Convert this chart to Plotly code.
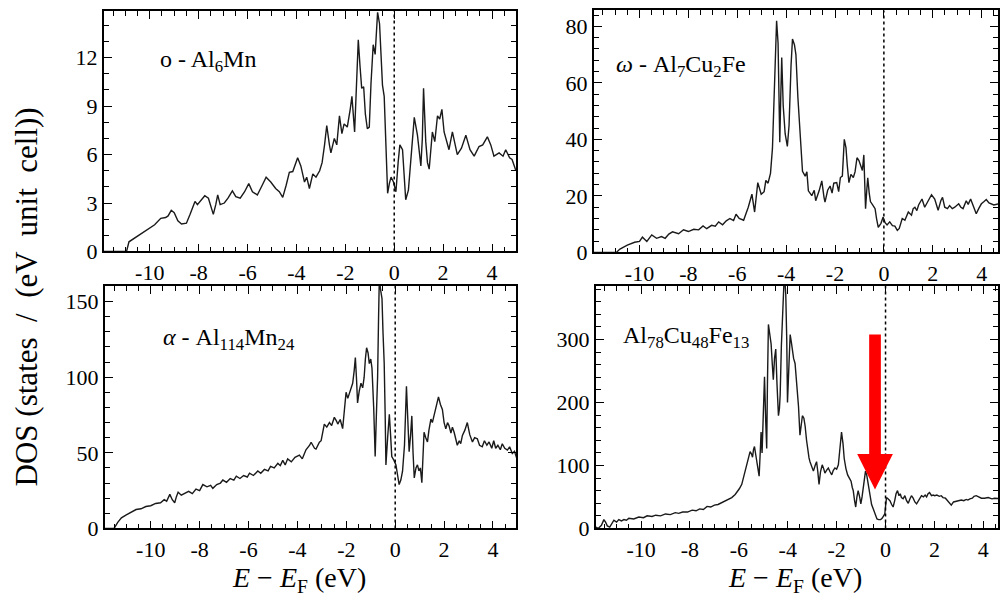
import plotly.graph_objects as go

# ---------------- data ----------------
# o-Al6Mn : (E - EF [eV], DOS)
al6mn = [(-11.88, 0), (-10.95, 0), (-10.85, 0.6), (-10.6, 0.85), (-10.2, 1.25), (-9.8, 1.65), (-9.55, 2.05),
         (-9.35, 2.1), (-9.25, 2.2), (-9.12, 2.55), (-9.0, 2.4), (-8.85, 1.9), (-8.7, 1.7), (-8.5, 1.75),
         (-8.35, 2.3), (-8.25, 2.7), (-8.15, 3.1), (-8.05, 2.9), (-7.9, 3.2), (-7.75, 3.45), (-7.6, 3.3),
         (-7.48, 2.7), (-7.4, 2.3), (-7.3, 2.9), (-7.22, 3.5), (-7.12, 2.9), (-6.95, 3.0), (-6.8, 3.3),
         (-6.62, 3.75), (-6.48, 3.4), (-6.3, 3.3), (-6.12, 3.7), (-5.95, 4.2), (-5.8, 3.7), (-5.6, 3.5),
         (-5.4, 4.1), (-5.24, 4.6), (-5.05, 4.3), (-4.85, 3.9), (-4.7, 3.7), (-4.56, 3.35), (-4.42, 4.1),
         (-4.29, 4.9), (-4.15, 4.95), (-3.95, 5.8), (-3.82, 5.3), (-3.67, 4.3), (-3.58, 4.6), (-3.47, 3.9),
         (-3.33, 4.8), (-3.2, 4.6), (-3.05, 5.0), (-2.95, 5.5), (-2.85, 6.6), (-2.76, 7.8), (-2.65, 6.6),
         (-2.59, 6.1), (-2.45, 7.0), (-2.35, 6.6), (-2.24, 8.4), (-2.14, 7.3), (-2.05, 7.9), (-1.92, 7.7),
         (-1.8, 8.8), (-1.73, 9.6), (-1.62, 7.4), (-1.56, 9.5), (-1.47, 13.1), (-1.4, 11.5), (-1.33, 10.1),
         (-1.25, 10.2), (-1.18, 8.5), (-1.1, 7.6), (-1.02, 7.7), (-0.95, 10.4), (-0.86, 12.8), (-0.78, 12.2),
         (-0.68, 14.8), (-0.6, 14.1), (-0.52, 12.0), (-0.48, 10.3), (-0.41, 9.6), (-0.34, 6.5), (-0.27, 3.6),
         (-0.2, 4.2), (-0.13, 4.6), (-0.03, 4.3), (0.07, 3.7), (0.16, 5.5), (0.23, 6.6), (0.34, 6.3),
         (0.4, 4.8), (0.47, 3.2), (0.58, 3.8), (0.7, 6.0), (0.82, 8.3), (0.95, 7.2), (1.09, 5.3), (1.15, 7.0),
         (1.2, 10.1), (1.29, 6.8), (1.36, 5.5), (1.43, 5.1), (1.56, 7.4), (1.66, 6.8), (1.77, 8.4), (1.86, 8.2),
         (1.95, 8.8), (2.04, 7.4), (2.24, 6.3), (2.38, 7.4), (2.58, 6.0), (2.75, 6.4), (2.93, 7.2), (3.1, 6.3),
         (3.27, 5.9), (3.47, 6.5), (3.62, 6.6), (3.81, 7.1), (3.95, 6.6), (4.08, 5.9), (4.29, 6.1), (4.45, 5.9),
         (4.56, 6.3), (4.72, 5.8), (4.82, 5.7), (4.98, 5.0)]

# omega-Al7Cu2Fe
al7cu2fe = [(-11.88, 0), (-10.95, 0), (-10.8, 1.2), (-10.5, 2.6), (-10.2, 3.6), (-10.0, 3.9), (-9.88, 5.4),
            (-9.7, 3.9), (-9.5, 6.2), (-9.3, 5.0), (-9.1, 5.6), (-8.95, 5.0), (-8.8, 6.5), (-8.65, 7.3),
            (-8.4, 6.6), (-8.2, 8.0), (-8.0, 7.4), (-7.78, 8.2), (-7.58, 8.0), (-7.4, 9.4), (-7.25, 8.4),
            (-7.05, 9.6), (-6.9, 9.3), (-6.76, 10.8), (-6.6, 9.8), (-6.45, 11.2), (-6.3, 12.0), (-6.15, 11.3),
            (-6.05, 13.5), (-5.92, 12.0), (-5.74, 11.4), (-5.55, 16.0), (-5.4, 20.6), (-5.29, 14.3),
            (-5.16, 24.7), (-5.02, 20.6), (-4.9, 21.5), (-4.83, 25.5), (-4.74, 24.5), (-4.64, 28.0),
            (-4.56, 36.8), (-4.5, 55.0), (-4.44, 75.0), (-4.39, 82.0), (-4.33, 74.0), (-4.29, 60.0),
            (-4.26, 39.0), (-4.22, 55.0), (-4.18, 69.0), (-4.12, 52.0), (-4.04, 42.0), (-3.95, 37.5),
            (-3.88, 45.0), (-3.8, 66.0), (-3.74, 75.5), (-3.66, 73.5), (-3.6, 70.0), (-3.52, 55.0),
            (-3.43, 41.4), (-3.33, 28.7), (-3.22, 27.0), (-3.15, 28.5), (-3.09, 21.8), (-2.95, 20.1),
            (-2.85, 22.0), (-2.79, 18.3), (-2.65, 21.8), (-2.54, 25.3), (-2.45, 19.5), (-2.41, 17.8),
            (-2.3, 22.0), (-2.2, 23.5), (-2.12, 21.0), (-2.05, 24.5), (-1.93, 24.7), (-1.85, 21.5),
            (-1.78, 26.5), (-1.7, 27.0), (-1.62, 40.0), (-1.55, 37.0), (-1.5, 31.0), (-1.43, 24.7),
            (-1.35, 27.6), (-1.25, 26.5), (-1.18, 28.5), (-1.1, 33.5), (-1.02, 32.5), (-0.93, 30.0),
            (-0.88, 29.0), (-0.82, 34.5), (-0.75, 15.5), (-0.7, 22.0), (-0.66, 26.4), (-0.6, 21.0),
            (-0.55, 18.0), (-0.44, 16.6), (-0.36, 15.5), (-0.3, 12.0), (-0.23, 8.9), (-0.12, 10.3),
            (-0.03, 12.5), (0.05, 10.5), (0.13, 9.7), (0.24, 10.8), (0.35, 9.5), (0.45, 9.3), (0.55, 7.8),
            (0.63, 8.5), (0.75, 12.0), (0.86, 11.4), (0.95, 13.8), (1.0, 14.3), (1.13, 13.2), (1.2, 15.5),
            (1.27, 16.0), (1.35, 14.8), (1.42, 16.8), (1.56, 18.9), (1.67, 16.0), (1.81, 18.3), (1.95, 20.4),
            (2.08, 18.9), (2.15, 17.0), (2.22, 14.9), (2.33, 18.3), (2.4, 19.5), (2.49, 16.0), (2.6, 15.5),
            (2.69, 16.6), (2.8, 15.5), (2.9, 16.0), (3.06, 17.2), (3.15, 16.0), (3.24, 15.5), (3.37, 18.3),
            (3.45, 17.0), (3.55, 18.9), (3.66, 16.6), (3.78, 13.7), (3.88, 15.5), (3.99, 17.2), (4.1, 18.0),
            (4.19, 18.7), (4.3, 17.5), (4.39, 17.2), (4.5, 16.8), (4.7, 17.2)]

# alpha-Al114Mn24
al114mn24 = [(-11.88, 0), (-11.5, 0), (-11.35, 4), (-11.2, 7), (-11.0, 9), (-10.8, 11), (-10.6, 12.5),
             (-10.4, 13), (-10.2, 14.5), (-10.0, 15), (-9.8, 16.5), (-9.6, 17), (-9.45, 19), (-9.35, 18),
             (-9.22, 22.5), (-9.12, 19), (-9.02, 17), (-8.95, 21), (-8.88, 24), (-8.75, 22), (-8.6, 23.5),
             (-8.45, 24.5), (-8.3, 23), (-8.15, 26), (-8.0, 25), (-7.87, 29), (-7.7, 27.5), (-7.55, 28.5),
             (-7.46, 26.5), (-7.3, 29), (-7.15, 30), (-7.05, 32), (-6.9, 30.5), (-6.75, 33), (-6.6, 32),
             (-6.5, 34.5), (-6.35, 33), (-6.2, 35), (-6.05, 34), (-5.96, 36.5), (-5.8, 35), (-5.62, 38),
             (-5.5, 36.5), (-5.35, 39), (-5.2, 38), (-5.1, 41), (-4.95, 40), (-4.8, 43), (-4.7, 41.5),
             (-4.6, 45), (-4.5, 42), (-4.4, 46), (-4.25, 44), (-4.1, 47), (-3.92, 48.5), (-3.8, 46),
             (-3.65, 52), (-3.5, 55), (-3.44, 57), (-3.3, 53), (-3.24, 52.5), (-3.1, 57), (-3.03, 58),
             (-2.95, 66), (-2.9, 69), (-2.8, 67), (-2.69, 70), (-2.6, 68), (-2.49, 73.5), (-2.4, 71),
             (-2.35, 69), (-2.25, 72), (-2.15, 66), (-2.08, 78), (-2.01, 90), (-1.94, 86), (-1.88, 89),
             (-1.8, 92), (-1.74, 96), (-1.68, 104), (-1.63, 113), (-1.58, 98), (-1.54, 83), (-1.47, 91),
             (-1.4, 96), (-1.33, 93), (-1.27, 100), (-1.22, 112), (-1.17, 119.5), (-1.11, 116), (-1.06, 109),
             (-1.0, 112), (-0.95, 106), (-0.88, 80), (-0.82, 47.5), (-0.77, 75), (-0.72, 100), (-0.68, 140),
             (-0.65, 165), (-0.6, 158), (-0.54, 152), (-0.5, 130), (-0.45, 109), (-0.41, 75), (-0.38, 42),
             (-0.31, 60), (-0.24, 75.5), (-0.19, 62), (-0.14, 47.5), (-0.05, 45), (0.03, 42), (0.1, 35),
             (0.16, 29), (0.23, 32), (0.3, 37.8), (0.38, 55), (0.43, 80), (0.46, 94), (0.52, 70), (0.57, 50.7),
             (0.63, 62), (0.68, 74.4), (0.73, 50), (0.78, 33.4), (0.85, 40), (0.91, 42), (0.97, 38), (1.03, 40),
             (1.09, 30.2), (1.14, 45), (1.18, 63.6), (1.25, 60), (1.32, 57.2), (1.38, 65), (1.46, 72.3),
             (1.52, 70), (1.59, 74.4), (1.68, 82), (1.77, 87), (1.85, 82), (1.93, 78.7), (2.0, 70), (2.07, 65.8),
             (2.14, 70), (2.2, 68), (2.28, 63), (2.34, 67), (2.41, 63.6), (2.48, 58), (2.54, 55), (2.62, 58),
             (2.68, 56), (2.75, 61.5), (2.85, 65), (2.95, 70), (3.05, 62), (3.16, 57.2), (3.25, 60), (3.36, 59.3),
             (3.45, 55), (3.56, 54), (3.65, 58), (3.75, 55), (3.84, 57.2), (3.95, 53), (4.03, 58), (4.11, 53),
             (4.2, 55), (4.3, 52), (4.38, 56), (4.48, 53), (4.59, 51.8), (4.68, 54), (4.79, 49.6), (4.88, 51),
             (4.98, 46)]

# Al78Cu48Fe13
al78cu48fe13 = [(-11.85, 2), (-11.75, 0), (-11.62, 5), (-11.52, 14), (-11.45, 10), (-11.38, 4), (-11.28, 2),
                (-11.18, 9), (-11.11, 13), (-11.0, 10), (-10.91, 14), (-10.8, 12), (-10.7, 14), (-10.6, 13),
                (-10.5, 16), (-10.3, 15), (-10.09, 18), (-9.9, 17), (-9.75, 20), (-9.55, 19), (-9.4, 21),
                (-9.2, 20), (-9.0, 23), (-8.8, 22), (-8.6, 25), (-8.46, 24), (-8.3, 26), (-8.1, 26), (-7.91, 29),
                (-7.75, 28), (-7.6, 31), (-7.45, 30), (-7.3, 35), (-7.15, 34), (-7.0, 37), (-6.85, 38),
                (-6.7, 41), (-6.56, 44), (-6.4, 46), (-6.29, 49), (-6.15, 54), (-6.08, 57), (-5.98, 63),
                (-5.88, 70), (-5.78, 85), (-5.67, 98), (-5.6, 112), (-5.54, 122), (-5.48, 118), (-5.44, 113),
                (-5.4, 125), (-5.36, 130), (-5.3, 115), (-5.27, 106), (-5.22, 90), (-5.17, 83), (-5.12, 125),
                (-5.09, 153), (-5.05, 120), (-5.02, 171), (-4.98, 200), (-4.95, 241), (-4.9, 170), (-4.86, 127),
                (-4.83, 230), (-4.79, 324), (-4.74, 310), (-4.68, 293), (-4.63, 260), (-4.59, 236), (-4.54, 270),
                (-4.49, 285), (-4.44, 230), (-4.38, 179), (-4.34, 190), (-4.31, 212), (-4.26, 290), (-4.22, 340),
                (-4.18, 375), (-4.15, 395), (-4.11, 390), (-4.08, 371), (-4.04, 300), (-4.01, 200), (-3.96, 250),
                (-3.9, 308), (-3.85, 295), (-3.81, 280), (-3.76, 270), (-3.7, 262), (-3.63, 231), (-3.56, 194),
                (-3.5, 148), (-3.45, 165), (-3.4, 179), (-3.34, 175), (-3.29, 163), (-3.23, 140), (-3.18, 122),
                (-3.13, 112), (-3.09, 106), (-3.02, 98), (-2.95, 91), (-2.88, 100), (-2.82, 106), (-2.77, 90),
                (-2.72, 70), (-2.66, 90), (-2.59, 101), (-2.53, 95), (-2.48, 88), (-2.4, 93), (-2.34, 96),
                (-2.27, 90), (-2.2, 85), (-2.14, 92), (-2.07, 96), (-2.0, 94), (-1.93, 101), (-1.87, 125),
                (-1.8, 153), (-1.74, 135), (-1.69, 111), (-1.62, 95), (-1.55, 85), (-1.48, 80), (-1.41, 75),
                (-1.36, 65), (-1.32, 60), (-1.27, 45), (-1.22, 34), (-1.17, 50), (-1.12, 60), (-1.06, 50),
                (-1.01, 39), (-0.96, 50), (-0.91, 65), (-0.86, 80), (-0.82, 91), (-0.77, 85), (-0.73, 75),
                (-0.68, 60), (-0.64, 49), (-0.57, 38), (-0.5, 31), (-0.42, 22), (-0.35, 15), (-0.28, 14),
                (-0.2, 14), (-0.14, 16), (-0.08, 20), (-0.03, 23), (0.0, 35), (0.04, 49), (0.1, 47), (0.18, 44),
                (0.25, 38), (0.31, 34), (0.38, 45), (0.43, 55), (0.49, 60), (0.55, 52), (0.6, 55), (0.65, 49),
                (0.72, 47), (0.79, 52), (0.86, 44), (0.93, 40), (1.0, 47), (1.06, 52), (1.13, 48), (1.2, 42),
                (1.27, 39), (1.35, 45), (1.42, 50), (1.47, 52), (1.55, 50), (1.62, 53), (1.68, 50), (1.74, 55),
                (1.8, 57), (1.88, 52), (1.95, 53), (2.01, 52), (2.1, 53), (2.2, 51), (2.28, 52), (2.35, 49),
                (2.45, 48), (2.55, 44), (2.62, 40), (2.69, 37), (2.78, 42), (2.87, 43), (2.97, 44), (3.1, 45),
                (3.2, 44), (3.3, 46), (3.37, 45), (3.45, 47), (3.55, 48), (3.62, 51), (3.71, 52), (3.8, 50),
                (3.92, 48), (4.05, 48), (4.2, 49), (4.35, 47), (4.46, 48), (4.7, 47)]

panel_labels = ["o - Al<sub>6</sub>Mn",
                "<i>ω</i> - Al<sub>7</sub>Cu<sub>2</sub>Fe",
                "<i>α</i> - Al<sub>114</sub>Mn<sub>24</sub>",
                "Al<sub>78</sub>Cu<sub>48</sub>Fe<sub>13</sub>"]
x_tickvals = [-10, -8, -6, -4, -2, 0, 2, 4]
x_ticktext = ["-10", "-8", "-6", "-4", "-2", "0", "2", "4"]
y_ticks = [[0, 3, 6, 9, 12], [0, 20, 40, 60, 80], [0, 50, 100, 150], [0, 100, 200, 300]]
y_minor = [1, 4, 10, 20]
y_tops = [14.9, 85.6, 160.3, 385]
x_ranges = [[-11.88, 4.98], [-11.87, 4.67], [-11.88, 4.94], [-11.85, 4.6]]
y_title = "DOS (states &nbsp;/ &nbsp;(eV &nbsp;unit &nbsp;cell))"
x_title = "<i>E</i> − <i>E</i><sub>F</sub> (eV)"

# red arrow (bottom-right panel, data coords)
arrow_x = -0.43
arrow_shaft_half = 0.24
arrow_top = 308
arrow_head_base = 118
arrow_head_half = 0.73
arrow_tip = 62

# ---------------- layout ----------------
FONT = "Liberation Serif, Times New Roman, serif"
x_domains = [[0.104, 0.517], [0.595, 1.0], [0.105, 0.517], [0.597, 1.0]]
y_domains = [[0.5759, 0.9818], [0.5743, 0.9823], [0.1089, 0.5177], [0.1089, 0.5177]]
label_pos = [(0.131, 0.79), (0.05, 0.77), (0.136, 0.78), (0.062, 0.79)]

series = [al6mn, al7cu2fe, al114mn24, al78cu48fe13]

fig = go.Figure()
layout = dict(width=1000, height=606, margin=dict(l=0, r=0, t=0, b=0),
              paper_bgcolor="white", plot_bgcolor="white", showlegend=False,
              font=dict(family=FONT, color="black"))
shapes = []
annotations = []

for i, pts in enumerate(series):
    n = "" if i == 0 else str(i + 1)
    xs = [p[0] for p in pts]
    ys = [p[1] for p in pts]
    fig.add_trace(go.Scatter(x=xs, y=ys, mode="lines", xaxis="x" + n, yaxis="y" + n,
                             line=dict(color="#1a1a1a", width=1.4), hoverinfo="skip"))
    common = dict(showline=True, linecolor="black", linewidth=1.6, mirror="allticks",
                  ticks="inside", ticklen=8, tickwidth=1.4, tickcolor="black",
                  showgrid=False, zeroline=False,
                  tickfont=dict(family=FONT, size=22, color="black"))
    layout["xaxis" + n] = dict(common, domain=x_domains[i], range=x_ranges[i], anchor="y" + n,
                               tickmode="array", tickvals=x_tickvals, ticktext=x_ticktext,
                               minor=dict(tickmode="linear", tick0=0, dtick=0.5, ticks="inside",
                                          ticklen=5, tickwidth=1.3, tickcolor="black"))
    layout["yaxis" + n] = dict(common, domain=y_domains[i], range=[0, y_tops[i]], anchor="x" + n,
                               tickmode="array", tickvals=y_ticks[i],
                               ticktext=[str(v) for v in y_ticks[i]],
                               minor=dict(tickmode="linear", tick0=0, dtick=y_minor[i], ticks="inside",
                                          ticklen=5, tickwidth=1.3, tickcolor="black"))
    # Fermi level dotted line
    shapes.append(dict(type="line", xref="x" + n, yref="y" + n + " domain", x0=0, x1=0, y0=0, y1=1,
                       line=dict(color="black", width=1.5, dash="dot")))
    annotations.append(dict(text=panel_labels[i], xref="x" + n + " domain", yref="y" + n + " domain",
                            x=label_pos[i][0], y=label_pos[i][1], xanchor="left", yanchor="middle",
                            showarrow=False, font=dict(family=FONT, size=24, color="black")))

# red arrow
shapes.append(dict(type="rect", xref="x4", yref="y4",
                   x0=arrow_x - arrow_shaft_half, x1=arrow_x + arrow_shaft_half,
                   y0=arrow_head_base, y1=arrow_top, fillcolor="red", line=dict(width=0), layer="above"))
shapes.append(dict(type="path", xref="x4", yref="y4",
                   path=f"M {arrow_x - arrow_head_half},{arrow_head_base} L {arrow_x + arrow_head_half},{arrow_head_base} L {arrow_x},{arrow_tip} Z",
                   fillcolor="red", line=dict(width=0), layer="above"))

# axis titles
annotations.append(dict(text=y_title, xref="paper", yref="paper", x=0.027, y=0.5, textangle=-90,
                        xanchor="center", yanchor="middle", showarrow=False,
                        font=dict(family=FONT, size=31, color="black")))
for xc in (0.300, 0.797):
    annotations.append(dict(text=x_title, xref="paper", yref="paper", x=xc, y=0.022,
                            xanchor="center", yanchor="middle", showarrow=False,
                            font=dict(family=FONT, size=28, color="black")))

layout["shapes"] = shapes
layout["annotations"] = annotations
fig.update_layout(**layout)
fig.write_html("out.html")
